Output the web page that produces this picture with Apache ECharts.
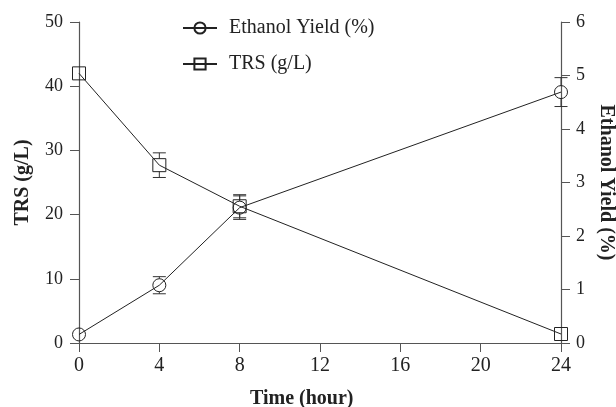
<!DOCTYPE html>
<html>
<head>
<meta charset="utf-8">
<script src="https://cdn.jsdelivr.net/npm/echarts@6/dist/echarts.min.js"></script>
<style>
html,body{margin:0;padding:0;background:#fff;}
#chart{width:616px;height:407px;}
</style>
</head>
<body>
<div id="chart"></div>
<script>
// Data
var timeHours = [0, 4, 8, 24];
var ethanolYield = [0.16, 1.08, 2.53, 4.69];
var ethanolErr = [0, 0.16, 0.22, 0.27];
var trsValues = [42.0, 27.7, 21.3, 1.4];
var trsErr = [0, 1.92, 1.8, 0];
var xTicks = [0, 4, 8, 12, 16, 20, 24];
var leftTicks = [0, 10, 20, 30, 40, 50];
var rightTicks = [0, 1, 2, 3, 4, 5, 6];

var SYM = 13;
var FONT = '"Liberation Serif", "Times New Roman", serif';
var AXC = '#555';
var TXC = '#222';

function pairs(xs, ys) { return xs.map(function (x, i) { return [x, ys[i]]; }); }
function triples(xs, ys, es) { return xs.map(function (x, i) { return [x, ys[i], es[i]]; }); }

function errRender(params, api) {
  var x = api.value(0), y = api.value(1), e = api.value(2);
  if (!e) return null;
  var c = api.coord([x, y]);
  var t = api.coord([x, y + e]);
  var b = api.coord([x, y - e]);
  var hw = 6.5, hs = SYM / 2;
  var style = { stroke: '#333', lineWidth: 1 };
  var kids = [
    { type: 'line', shape: { x1: c[0] - hw, y1: t[1], x2: c[0] + hw, y2: t[1] }, style: style },
    { type: 'line', shape: { x1: c[0] - hw, y1: b[1], x2: c[0] + hw, y2: b[1] }, style: style }
  ];
  if (c[1] - t[1] > hs) {
    kids.push({ type: 'line', shape: { x1: c[0], y1: t[1], x2: c[0], y2: c[1] - hs }, style: style });
    kids.push({ type: 'line', shape: { x1: c[0], y1: c[1] + hs, x2: c[0], y2: b[1] }, style: style });
  }
  return { type: 'group', children: kids };
}

var chart = echarts.init(document.getElementById('chart'), null, { renderer: 'canvas' });
chart.setOption({
  animation: false,
  backgroundColor: '#fff',
  grid: { left: 79, right: 55, top: 22, bottom: 64, outerBoundsMode: 'none', containLabel: false },
  title: {
    text: 'Time (hour)',
    left: 245, top: 384,
    textStyle: { fontFamily: FONT, fontSize: 20, fontWeight: 'bold', color: TXC }
  },
  legend: {
    orient: 'vertical',
    left: 177, top: 13,
    itemWidth: 34, itemHeight: 14,
    itemGap: 16,
    data: ['Ethanol Yield (%)', 'TRS (g/L)'],
    textStyle: { fontFamily: FONT, fontSize: 20, color: TXC, padding: [0, 0, 0, 7] }
  },
  xAxis: {
    type: 'value', min: 0, max: 24, interval: 4,
    axisLine: { show: true, lineStyle: { color: AXC, width: 1.2 } },
    axisTick: { show: true, length: 9, lineStyle: { color: AXC } },
    axisLabel: { fontFamily: FONT, fontSize: 20, color: TXC, margin: 13,
      formatter: function (v) { return xTicks.indexOf(v) >= 0 ? String(v) : ''; } },
    splitLine: { show: false }
  },
  yAxis: [
    {
      type: 'value', min: 0, max: 50, interval: 10, position: 'left',
      name: 'TRS (g/L)', nameLocation: 'middle', nameGap: 46, nameRotate: 90,
      nameTextStyle: { fontFamily: FONT, fontSize: 20, fontWeight: 'bold', color: TXC },
      axisLine: { show: true, lineStyle: { color: AXC, width: 1.2 } },
      axisTick: { show: true, length: 9, lineStyle: { color: AXC } },
      axisLabel: { fontFamily: FONT, fontSize: 18, color: TXC, margin: 16,
        formatter: function (v) { return leftTicks.indexOf(v) >= 0 ? String(v) : ''; } },
      splitLine: { show: false }
    },
    {
      type: 'value', min: 0, max: 6, interval: 1, position: 'right',
      name: 'Ethanol Yield (%)', nameLocation: 'middle', nameGap: 35, nameRotate: -90,
      nameTextStyle: { fontFamily: FONT, fontSize: 20, fontWeight: 'bold', color: TXC },
      axisLine: { show: true, lineStyle: { color: AXC, width: 1.2 } },
      axisTick: { show: true, length: 9, lineStyle: { color: AXC } },
      axisLabel: { fontFamily: FONT, fontSize: 18, color: TXC, margin: 15,
        formatter: function (v) { return rightTicks.indexOf(v) >= 0 ? String(v) : ''; } },
      splitLine: { show: false }
    }
  ],
  series: [
    {
      name: 'Ethanol Yield (%)', type: 'line', yAxisIndex: 1,
      data: pairs(timeHours, ethanolYield),
      symbol: 'circle', symbolSize: SYM,
      lineStyle: { color: '#222', width: 1 },
      itemStyle: { color: 'rgba(0,0,0,0)', borderColor: '#222', borderWidth: 1 },
      z: 3
    },
    {
      name: 'TRS (g/L)', type: 'line', yAxisIndex: 0,
      data: pairs(timeHours, trsValues),
      symbol: 'rect', symbolSize: SYM,
      lineStyle: { color: '#222', width: 1 },
      itemStyle: { color: 'rgba(0,0,0,0)', borderColor: '#222', borderWidth: 1 },
      z: 3
    },
    {
      name: 'ethanolErr', type: 'custom', yAxisIndex: 1,
      data: triples(timeHours, ethanolYield, ethanolErr),
      encode: { x: 0, y: 1 },
      renderItem: errRender, z: 2
    },
    {
      name: 'trsErr', type: 'custom', yAxisIndex: 0,
      data: triples(timeHours, trsValues, trsErr),
      encode: { x: 0, y: 1 },
      renderItem: errRender, z: 2
    }
  ]
});
</script>
</body>
</html>
